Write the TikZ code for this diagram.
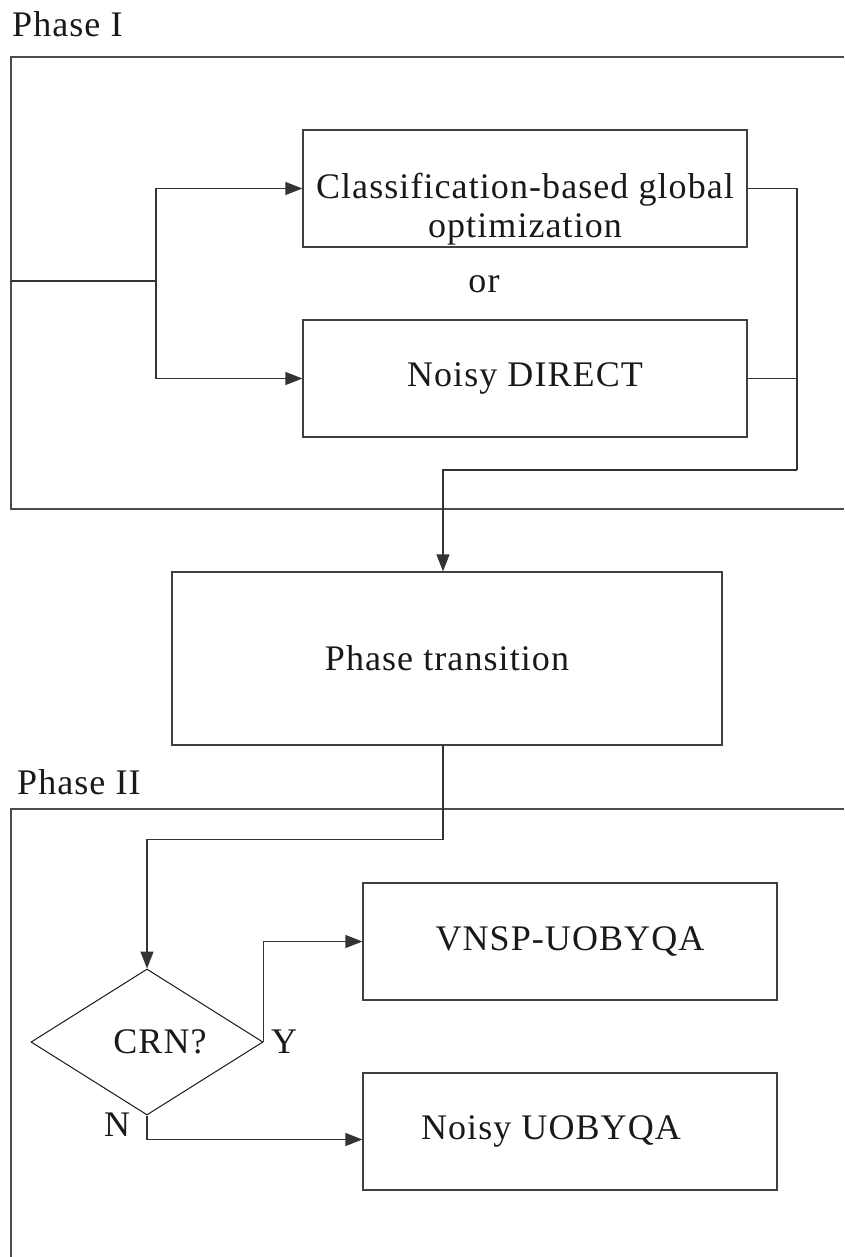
\documentclass[tikz,border=0pt]{standalone}
\usepackage{fontspec}
\setmainfont{Liberation Serif}[LetterSpace=3]
\usetikzlibrary{arrows.meta,shapes.geometric}
\begin{document}
\begin{tikzpicture}[x=1pt,y=-1pt,
  every node/.style={font=\fontsize{36}{39}\selectfont, text=black!90},
  box/.style={draw=black!75, line width=1.3pt, minimum width=444pt, minimum height=117pt, inner sep=0pt},
  frame/.style={draw=black!70, line width=1.4pt},
  wire/.style={draw=black!80, line width=1.3pt},
  arr/.style={wire, -{Triangle[length=17pt,width=13pt]}}]
\useasboundingbox (0,0) rectangle (844,1257);
% frames
\draw[frame] (844,57) -- (11,57) -- (11,509) -- (844,509);
\draw[frame] (844,809) -- (11,809) -- (11,1257);
\node[anchor=base west, inner xsep=0pt] (ph1) at (12,37) {Phase I};
\node[anchor=base west, inner xsep=0pt] (ph2) at (17,794) {Phase II};
% phase I boxes
\node[box, label={[yshift=-21pt, align=center]center:Classification-based global\\optimization}] (c1) at (525,188.5) {};
\node[anchor=base] (or) at (484,292) {or};
\node[box] (c2) at (525,378.5) {Noisy DIRECT};
% phase transition
\node[box, minimum width=550pt, minimum height=173pt] (pt) at (447,658.5) {Phase transition};
% phase II
\node[draw=black!90, line width=1pt, diamond, minimum width=232pt, minimum height=146pt, inner sep=0pt] (crn) at (147,1042) {\hspace*{26pt}CRN?};
\node[box, minimum width=414pt] (vn) at (570,941.5) {VNSP-UOBYQA};
\node[box, minimum width=414pt] (nu) at (570,1131.5) {\hspace*{-38pt}Noisy UOBYQA};
\node[anchor=base] (ylab) at (284,1053) {Y};
\node[anchor=base] (nlab) at (117,1136) {N};
% connectors
\coordinate (src) at (11,281);
\coordinate (split) at (156,281);
\coordinate (mr) at (797,470);
\draw[wire] (src) -- (split);
\draw[arr] (split) |- (c1.west);
\draw[arr] (split) |- (c2.west);
\draw[wire] (c1.east) -| (mr);
\draw[wire] (c2.east) -- (c2.east -| mr);
\draw[arr] (mr) -| ([xshift=-4pt]pt.north);
\draw[arr] ([xshift=-4pt]pt.south) -- ++(0,94) -| (crn.north);
\draw[arr] (crn.east) |- (vn.west);
\draw[arr] (crn.south) |- ([yshift=-8pt]nu.west);
\end{tikzpicture}
\end{document}
